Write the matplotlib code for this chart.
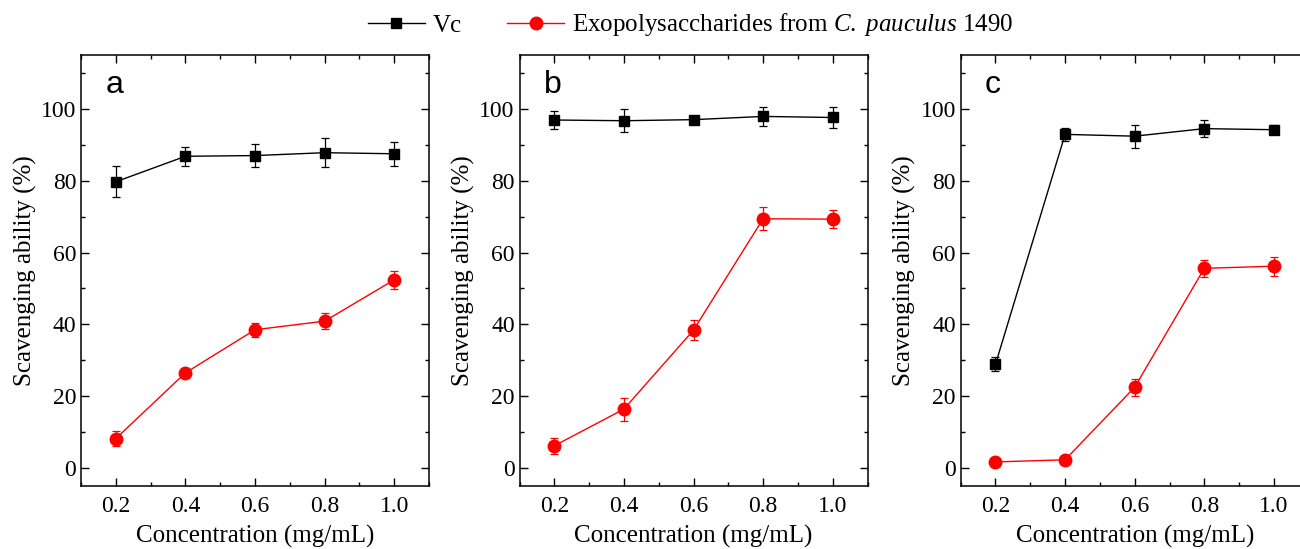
import matplotlib
matplotlib.use("Agg")
import matplotlib.pyplot as plt
from matplotlib.ticker import MultipleLocator
from matplotlib.lines import Line2D

plt.rcParams['font.family'] = ['Liberation Serif', 'DejaVu Serif']
plt.rcParams['mathtext.fontset'] = 'custom'
plt.rcParams['mathtext.it'] = 'Liberation Serif:italic'
plt.rcParams['mathtext.rm'] = 'Liberation Serif'

conc = [0.2, 0.4, 0.6, 0.8, 1.0]
panel_labels = ['a', 'b', 'c']

vc_a = [79.7, 86.8, 87.0, 87.8, 87.5]
vc_a_err = [4.3, 2.6, 3.2, 4.1, 3.3]
eps_a = [8.2, 26.5, 38.5, 40.9, 52.4]
eps_a_err = [2.1, 1.0, 2.0, 2.2, 2.5]

vc_b = [96.9, 96.7, 97.0, 97.9, 97.6]
vc_b_err = [2.5, 3.2, 1.0, 2.7, 2.8]
eps_b = [6.2, 16.4, 38.4, 69.4, 69.3]
eps_b_err = [2.3, 3.2, 2.7, 3.2, 2.6]

vc_c = [28.9, 92.9, 92.4, 94.5, 94.2]
vc_c_err = [2.0, 1.9, 3.2, 2.4, 1.2]
eps_c = [1.7, 2.3, 22.5, 55.6, 56.2]
eps_c_err = [0.5, 0.5, 2.4, 2.3, 2.6]

vc_label = 'Vc'
eps_label = r'Exopolysaccharides from $\it{C.\ pauculus}$ 1490'
xlabel = 'Concentration (mg/mL)'
ylabel = 'Scavenging ability (%)'

W, H = 1300, 549
fig = plt.figure(figsize=(W / 100, H / 100), dpi=100)

lefts = [81, 519.5, 960.7]
ax_w = 348
ax_bottom = 63
ax_h = 431

datasets = [
    (vc_a, vc_a_err, eps_a, eps_a_err),
    (vc_b, vc_b_err, eps_b, eps_b_err),
    (vc_c, vc_c_err, eps_c, eps_c_err),
]

for i, (vc, vce, eps, epse) in enumerate(datasets):
    ax = fig.add_axes([lefts[i] / W, ax_bottom / H, ax_w / W, ax_h / H])
    ax.errorbar(conc, vc, yerr=vce, color='black', marker='s', markersize=7.5,
                linewidth=1.0, capsize=3, elinewidth=0.9, capthick=0.9)
    ax.errorbar(conc, eps, yerr=epse, color='#ff0000', marker='o', markersize=9,
                linewidth=1.0, capsize=3, elinewidth=0.9, capthick=0.9)
    ax.set_xlim(0.1, 1.1)
    ax.set_ylim(-5, 115)
    ax.set_xticks(conc)
    ax.set_xticklabels(['0.2', '0.4', '0.6', '0.8', '1.0'])
    ax.set_yticks([0, 20, 40, 60, 80, 100])
    ax.xaxis.set_minor_locator(MultipleLocator(0.1))
    ax.yaxis.set_minor_locator(MultipleLocator(10))
    ax.tick_params(which='both', direction='in', top=True, right=True, labelsize=17)
    ax.tick_params(which='major', length=6, width=1.0)
    ax.tick_params(which='minor', length=3, width=1.0)
    ax.tick_params(axis='x', pad=7)
    for s in ax.spines.values():
        s.set_linewidth(1.1)
    ax.set_xlabel(xlabel, fontsize=18, labelpad=6)
    ax.set_ylabel(ylabel, fontsize=18, labelpad=3)
    ax.text(0.07, 0.965, panel_labels[i], transform=ax.transAxes, fontsize=23,
            family='Liberation Sans', va='top', ha='left')

handles = [
    Line2D([], [], color='black', marker='s', markersize=7.5, linewidth=1.0),
    Line2D([], [], color='#ff0000', marker='o', markersize=9, linewidth=1.0),
]
fig.legend(handles, [vc_label, eps_label], loc='center', ncol=2,
           bbox_to_anchor=(0.531, 1 - 25 / H), frameon=False, fontsize=18,
           handlelength=2.3, columnspacing=1.8, handletextpad=0.3)

fig.savefig('out.png', dpi=100)
